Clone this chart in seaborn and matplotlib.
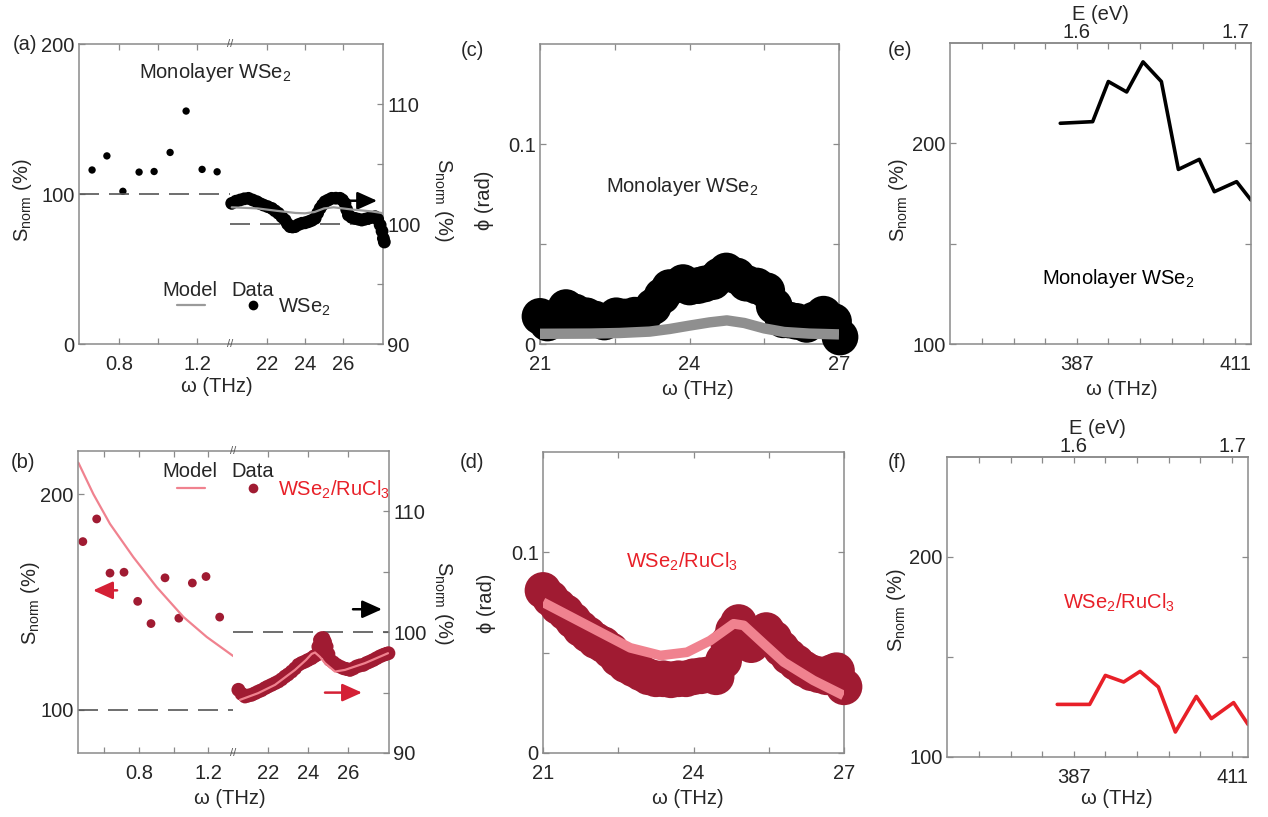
import numpy as np
import matplotlib
matplotlib.use("Agg")
import matplotlib.pyplot as plt
import seaborn as sns
from matplotlib.lines import Line2D

sns.set_style("ticks")
plt.rcParams['font.family'] = ['Liberation Sans', 'DejaVu Sans']
plt.rcParams['mathtext.default'] = 'regular'

# ---- data ----

# (a) monolayer WSe2: THz points (left axis) and mid-IR points (right axis)
a_low_w = [0.662, 0.738, 0.82, 0.903, 0.98, 1.062, 1.144, 1.226, 1.303]
a_low_s = [116, 125.4, 101.8, 114.6, 115, 127.7, 155.3, 116.4, 114.8]
a_hi_w = [20.14, 20.36, 20.58, 20.8, 21.02, 21.24, 21.46, 21.63, 21.81, 22.03, 22.25, 22.42, 22.6,
          22.78, 22.95, 23.08, 23.21, 23.34, 23.47, 23.65, 23.83, 24.0, 24.18, 24.35, 24.53, 24.66,
          24.79, 24.92, 25.05, 25.22, 25.4, 25.62, 25.84, 25.97, 26.1, 26.19, 26.28, 26.45, 26.63,
          26.8, 26.98, 27.15, 27.33, 27.5, 27.68, 27.82, 27.95, 28.05, 28.12, 28.17]
a_hi_s = [101.72, 101.9, 102.0, 102.1, 102.14, 102.0, 101.86, 101.7, 101.58, 101.45, 101.3, 101.1,
          100.89, 100.6, 100.33, 100.0, 99.78, 99.75, 99.78, 99.95, 100.06, 100.1, 100.19, 100.3,
          100.47, 100.9, 101.3, 101.6, 101.86, 102.0, 102.14, 102.15, 102.14, 102.0, 101.72, 101.2,
          100.75, 100.55, 100.47, 100.4, 100.33, 100.4, 100.47, 100.55, 100.61, 100.4, 99.92, 99.4,
          98.8, 98.5]
a_model_w = [20.14, 21.5, 22.5, 23.5, 24.0, 24.5, 25.0, 25.5, 26.5, 27.5, 28.1]
a_model_s = [101.39, 101.3, 101.1, 100.92, 100.89, 101.0, 101.3, 101.39, 101.2, 101.05, 100.9]

# (b) WSe2/RuCl3
b_low_w = [0.475, 0.555, 0.632, 0.713, 0.792, 0.869, 0.95, 1.03, 1.108, 1.187, 1.266]
b_low_s = [178, 188.5, 163.4, 163.8, 150.3, 140, 161.2, 142.5, 158.8, 161.8, 143]
b_low_model_w = [0.449, 0.536, 0.632, 0.767, 0.902, 1.056, 1.191, 1.345]
b_low_model_s = [214.6, 200, 186.2, 170.8, 156.9, 143.1, 133.8, 124.9]
b_hi_w = [20.52, 20.68, 20.85, 21.0, 21.18, 21.35, 21.52, 21.68, 21.85, 22.0, 22.18, 22.35, 22.52,
          22.68, 22.85, 23.0, 23.18, 23.35, 23.52, 23.68, 23.85, 24.0, 24.18, 24.3, 24.43, 24.52,
          24.6, 24.68, 24.77, 24.85, 24.93, 25.02, 25.1, 25.27, 25.43, 25.6, 25.77, 25.93, 26.1,
          26.27, 26.43, 26.6, 26.77, 26.93, 27.1, 27.27, 27.43, 27.6, 27.77, 27.9, 28.02]
b_hi_s = [95.23, 94.9, 94.68, 94.75, 94.82, 94.95, 95.09, 95.2, 95.37, 95.5, 95.64, 95.78, 95.92,
          96.1, 96.33, 96.5, 96.74, 97.0, 97.3, 97.45, 97.57, 97.7, 97.85, 98.0, 98.12, 98.8,
          99.36, 99.5, 99.5, 99.2, 98.81, 98.2, 97.71, 97.5, 97.3, 97.15, 97.02, 96.95, 96.88,
          97.0, 97.16, 97.25, 97.3, 97.45, 97.57, 97.7, 97.85, 98.0, 98.12, 98.2, 98.26]
b_hi_model_w = [20.6, 21.5, 22.35, 23.35, 23.9, 24.18, 24.35, 24.6, 24.85, 25.35, 25.85, 26.85, 28.0]
b_hi_model_s = [94.4, 94.95, 95.64, 96.88, 97.7, 98.2, 98.32, 97.95, 97.44, 96.74, 96.88, 97.44, 98.26]

# (c) phase, monolayer
c_w = [21.0, 21.15, 21.3, 21.52, 21.7, 21.93, 22.1, 22.29, 22.53, 22.7, 22.9, 23.1, 23.27, 23.45,
       23.6, 23.87, 24.0, 24.17, 24.3, 24.47, 24.6, 24.74, 24.95, 25.14, 25.35, 25.55, 25.7,
       25.88, 26.0, 26.15, 26.35, 26.5, 26.69, 26.89, 27.02]
c_phi = [0.0138, 0.0105, 0.0125, 0.0182, 0.016, 0.0141, 0.0125, 0.011, 0.0141, 0.0135, 0.0144,
         0.015, 0.0187, 0.024, 0.0282, 0.0307, 0.0285, 0.0292, 0.030, 0.0312, 0.034, 0.0365, 0.034,
         0.0304, 0.029, 0.0266, 0.019, 0.0121, 0.012, 0.0113, 0.0098, 0.012, 0.0149, 0.0113, 0.0035]
c_model_w = [21.0, 22.0, 22.6, 23.2, 23.6, 24.0, 24.4, 24.75, 25.1, 25.5, 25.9, 26.4, 27.0]
c_model_phi = [0.0051, 0.0052, 0.0055, 0.0062, 0.0075, 0.0092, 0.0108, 0.0118, 0.0105, 0.0078, 0.006, 0.0052, 0.0048]

# (d) phase, heterostructure
d_w = [21.0, 21.15, 21.3, 21.45, 21.6, 21.75, 21.9, 22.05, 22.2, 22.35, 22.5, 22.65, 22.8, 22.95,
       23.1, 23.25, 23.4, 23.55, 23.7, 23.85, 24.0, 24.15, 24.3, 24.45, 24.6, 24.7, 24.8, 24.9,
       25.05, 25.15, 25.3, 25.45, 25.6, 25.75, 25.9, 26.05, 26.2, 26.35, 26.5, 26.65, 26.75,
       26.85, 27.0]
d_phi = [0.081, 0.077, 0.073, 0.07, 0.066, 0.062, 0.059, 0.056, 0.054, 0.051, 0.047, 0.044, 0.042,
         0.04, 0.038, 0.037, 0.037, 0.0365, 0.037, 0.037, 0.038, 0.0385, 0.039, 0.038, 0.046, 0.055,
         0.061, 0.065, 0.06, 0.054, 0.057, 0.061, 0.057, 0.052, 0.048, 0.045, 0.042, 0.04, 0.039,
         0.038, 0.040, 0.041, 0.033]
d_model_w = [21.0, 22.08, 22.74, 23.34, 23.87, 24.33, 24.8, 25.0, 25.4, 25.8, 26.39, 26.99]
d_model_phi = [0.0751, 0.061, 0.0524, 0.0486, 0.0502, 0.056, 0.0644, 0.0636, 0.0544, 0.0453, 0.0362, 0.0287]

# (e), (f) near-IR
ef_w = [384.35, 389.3, 391.7, 394.5, 397.0, 399.8, 402.4, 405.6, 407.9, 411.3, 413.5]
e_s = [210, 210.8, 230.8, 225.6, 240.6, 230.8, 187, 192, 175.9, 180.9, 171.7]
f_s = [126.3, 126.3, 140.8, 137.5, 142.8, 135, 112.5, 130.3, 119.2, 127.2, 116.3]
ev_ticks = [1.54, 1.56, 1.58, 1.60, 1.62, 1.64, 1.66, 1.68, 1.70]
EV2THZ = 241.799

# ---- styling ----
W, H = 1268, 817
FS = 14.5
FRAME = '#8a8a8a'
DASH = '#555555'
DARKRED = '#A01B32'
PINK = '#F0828F'
RED = '#E82028'
GRAY = '#9a9a9a'

S_LABEL = 'S$_{norm}$ (%)'
W_LABEL = 'ω (THz)'
PHI_LABEL = 'ϕ (rad)'

fig = plt.figure(figsize=(W / 100, H / 100), dpi=100)


def box(x0, y0, x1, y1):
    return [x0 / W, 1 - y1 / H, (x1 - x0) / W, (y1 - y0) / H]


def put(px, py, s, **kw):
    kw.setdefault('fontsize', FS)
    kw.setdefault('ha', 'center')
    kw.setdefault('va', 'center')
    fig.text(px / W, 1 - py / H, s, **kw)


def key_line(x0, x1, py, color):
    fig.add_artist(Line2D([x0 / W, x1 / W], [1 - py / H] * 2, color=color, lw=1.6,
                          transform=fig.transFigure))


def key_dot(px, py, color):
    fig.add_artist(Line2D([px / W], [1 - py / H], marker='o', ms=7, color=color, mec='none',
                          transform=fig.transFigure))


def frame(ax):
    for sp in ax.spines.values():
        sp.set_color(FRAME)
        sp.set_linewidth(1.1)
    ax.tick_params(which='both', direction='in', length=4, width=0.9, color=FRAME,
                   labelsize=FS, top=True, right=True)
    ax.tick_params(axis='x', pad=8)
    ax.tick_params(axis='y', pad=3)
    ax.set_xlabel('')
    ax.set_ylabel('')


def broken(x0, y0, xb, x1, y1):
    axl = fig.add_axes(box(x0, y0, xb, y1))
    axr = fig.add_axes(box(xb, y0, x1, y1))
    frame(axl)
    frame(axr)
    axl.spines['right'].set_visible(False)
    axr.spines['left'].set_visible(False)
    axl.tick_params(axis='y', right=False)
    axr.tick_params(axis='y', left=False, labelleft=False, right=True, labelright=True)
    for py in (y0, y1):
        put(xb, py, '//', fontsize=8, color='#555555')
    return axl, axr


def arrow(ax, tail, head, color):
    ax.annotate('', xy=head, xytext=tail,
                arrowprops=dict(arrowstyle='-|>,head_length=1.0,head_width=0.45', lw=1.8,
                                color=color, mutation_scale=12, shrinkA=0, shrinkB=0))


# ---- (a) ----
axal, axar = broken(79, 44, 230, 383, 344)
axal.spines['right'].set_visible(True)
axal.spines['right'].set_color('#e4e4e4')
axal.spines['right'].set_linewidth(0.7)
axal.axhline(100, color=DASH, lw=1.2, dashes=(12, 6))
sns.scatterplot(x=a_low_w, y=a_low_s, ax=axal, color='black', s=28, edgecolor='none', legend=False)
axal.set(xlim=(0.595, 1.369), ylim=(0, 200), xlabel='', ylabel='')
axal.set_xticks([0.8, 1.0, 1.2], ['0.8', '', '1.2'])
axal.set_yticks([0, 100, 200], ['0', '100', '200'])

axar.axhline(100, color=DASH, lw=1.2, dashes=(12, 6))
sns.scatterplot(x=a_hi_w, y=a_hi_s, ax=axar, color='black', s=85, edgecolor='none',
                legend=False, clip_on=False, zorder=3)
sns.lineplot(x=a_model_w, y=a_model_s, ax=axar, color=GRAY, lw=1.6, zorder=4)
axar.set(xlim=(20.05, 28.1), ylim=(90, 115), xlabel='', ylabel='')
axar.set_xticks([22, 24, 26])
axar.set_yticks([90, 95, 100, 105, 110], ['90', '', '100', '', '110'])
arrow(axar, (26.26, 101.94), (27.79, 101.94), 'black')

put(25, 45, '(a)')
put(215, 72, 'Monolayer WSe$_2$')
put(190, 290, 'Model')
put(253, 290, 'Data')
key_line(177, 205, 305, GRAY)
key_dot(253, 305, 'black')
put(278, 307, 'WSe$_2$', ha='left')
put(23, 200, S_LABEL, rotation=90)
put(443, 200, S_LABEL, rotation=270)
put(217, 387, W_LABEL)

# ---- (b) ----
axbl, axbr = broken(78, 451, 233, 389, 753)
axbl.axhline(100, color=DASH, lw=1.2, dashes=(12, 6))
sns.lineplot(x=b_low_model_w, y=b_low_model_s, ax=axbl, color=PINK, lw=1.6)
sns.scatterplot(x=b_low_w, y=b_low_s, ax=axbl, color=DARKRED, s=40, edgecolor='none', legend=False)
axbl.set(xlim=(0.447, 1.343), ylim=(80, 220), xlabel='', ylabel='')
axbl.set_xticks([0.6, 0.8, 1.0, 1.2], ['', '0.8', '', '1.2'])
axbl.set_yticks([100, 200], ['100', '200'])
arrow(axbl, (0.673, 155.4), (0.534, 155.4), '#D42035')

axbr.axhline(100, color=DASH, lw=1.2, dashes=(12, 6))
sns.scatterplot(x=b_hi_w, y=b_hi_s, ax=axbr, color=DARKRED, s=100, edgecolor='none',
                legend=False, clip_on=False, zorder=3)
sns.lineplot(x=b_hi_model_w, y=b_hi_model_s, ax=axbr, color=PINK, lw=1.6, zorder=4)
axbr.set(xlim=(20.25, 28.05), ylim=(90, 115), xlabel='', ylabel='')
axbr.set_xticks([22, 24, 26])
axbr.set_yticks([90, 95, 100, 105, 110], ['90', '', '100', '', '110'])
arrow(axbr, (26.25, 101.9), (27.7, 101.9), 'black')
arrow(axbr, (24.85, 95.0), (26.7, 95.0), '#D42035')

put(23, 463, '(b)')
put(190, 472, 'Model')
put(253, 472, 'Data')
key_line(177, 205, 488, PINK)
key_dot(253, 488, DARKRED)
put(278, 490, 'WSe$_2$/RuCl$_3$', ha='left', color=RED)
put(30, 603, S_LABEL, rotation=90)
put(444, 603, S_LABEL, rotation=270)
put(230, 799, W_LABEL)

# ---- (c) ----
axc = fig.add_axes(box(540, 44, 839, 344))
frame(axc)
sns.scatterplot(x=c_w, y=c_phi, ax=axc, color='black', s=700, edgecolor='none',
                legend=False, clip_on=False, zorder=3)
sns.lineplot(x=c_model_w, y=c_model_phi, ax=axc, color='#8f8f8f', lw=7.5, zorder=4,
             solid_capstyle='butt')
axc.set(xlim=(21, 27), ylim=(0, 0.15), xlabel='', ylabel='')
axc.set_xticks([21, 22.5, 24, 25.5, 27], ['21', '', '24', '', '27'])
axc.set_yticks([0, 0.05, 0.1], ['0', '', '0.1'])
put(472, 50, '(c)')
put(682, 187, 'Monolayer WSe$_2$')
put(485, 200, PHI_LABEL, rotation=90)
put(698, 389, W_LABEL)

# ---- (d) ----
axd = fig.add_axes(box(543, 452, 844, 753))
frame(axd)
sns.scatterplot(x=d_w, y=d_phi, ax=axd, color=DARKRED, s=700, edgecolor='none',
                legend=False, clip_on=False, zorder=3)
sns.lineplot(x=d_model_w, y=d_model_phi, ax=axd, color=PINK, lw=7, zorder=4,
             solid_capstyle='butt')
axd.set(xlim=(21, 27), ylim=(0, 0.15), xlabel='', ylabel='')
axd.set_xticks([21, 22.5, 24, 25.5, 27], ['21', '', '24', '', '27'])
axd.set_yticks([0, 0.05, 0.1], ['0', '', '0.1'])
put(472, 462, '(d)')
put(682, 562, 'WSe$_2$/RuCl$_3$', color=RED)
put(486, 603, PHI_LABEL, rotation=90)
put(688, 799, W_LABEL)


# ---- (e), (f) ----
def nir_panel(rect, ys, color, label, note, note_xy, note_color, label_xy, ylab_xy, xlab_xy):
    ax = fig.add_axes(box(*rect))
    frame(ax)
    ax.tick_params(axis='x', top=False)
    sns.lineplot(x=ef_w, y=ys, ax=ax, color=color, lw=2.6)
    ax.set(xlim=(367.5, 413.5), ylim=(100, 250), xlabel='', ylabel='')
    ax.set_xticks([e * EV2THZ for e in ev_ticks],
                  ['387' if abs(e - 1.6) < 1e-6 else '411' if abs(e - 1.7) < 1e-6 else '' for e in ev_ticks])
    ax.set_yticks([100, 150, 200], ['100', '', '200'])
    sec = ax.secondary_xaxis('top', functions=(lambda f: f / EV2THZ, lambda e: e * EV2THZ))
    sec.set_xticks(ev_ticks, ['1.6' if abs(e - 1.6) < 1e-6 else '1.7' if abs(e - 1.7) < 1e-6 else ''
                              for e in ev_ticks])
    sec.tick_params(direction='in', length=4, width=0.9, color=FRAME, labelsize=FS, pad=1)
    sec.spines['top'].set_color(FRAME)
    sec.spines['top'].set_linewidth(1.1)
    sec.set_xlabel('E (eV)', fontsize=FS, labelpad=2)
    put(*label_xy, label)
    put(*note_xy, note, color=note_color)
    put(*ylab_xy, S_LABEL, rotation=90)
    put(*xlab_xy, W_LABEL)
    return ax


nir_panel((950, 43, 1251, 344), e_s, 'black', '(e)', 'Monolayer WSe$_2$', (1118, 278), 'black',
          (900, 50), (898, 200), (1122, 389))
nir_panel((947, 457, 1248, 757), f_s, RED, '(f)', 'WSe$_2$/RuCl$_3$', (1119, 603), RED,
          (897, 462), (897, 610), (1117, 799))

fig.savefig('out.png', dpi=100)
